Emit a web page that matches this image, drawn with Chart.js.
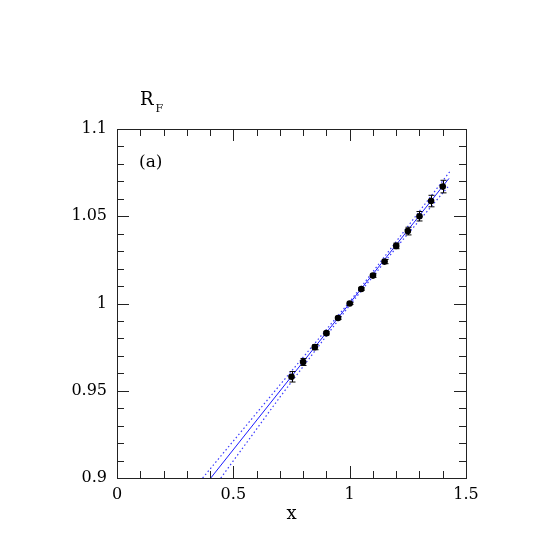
<!DOCTYPE html>
<html>
<head>
<meta charset="utf-8">
<script src="https://cdn.jsdelivr.net/npm/chart.js@4.4.1/dist/chart.umd.min.js"></script>
<style>
html,body{margin:0;padding:0;background:#fff;}
#wrap{width:545px;height:545px;position:relative;}
</style>
</head>
<body>
<div id="wrap"><canvas id="c"></canvas></div>
<script>
// ---- data ----
const xVals = [0.75, 0.80, 0.85, 0.90, 0.95, 1.00, 1.05, 1.10, 1.15, 1.20, 1.25, 1.30, 1.35, 1.40];
const yVals = [0.958, 0.9665, 0.975, 0.983, 0.9917, 1.000, 1.0083, 1.016, 1.024, 1.033, 1.0415, 1.050, 1.0587, 1.067];
const yErr  = [0.003, 0.002, 0.0015, 0.001, 0.0008, 0.0005, 0.0008, 0.001, 0.0012, 0.0016, 0.0022, 0.0027, 0.0033, 0.0036];

const fitX = [0.403, 1.427];
const fitY = [0.900, 1.0717];
const upperX = [0.368, 0.70, 1.00, 1.20, 1.43];
const upperY = [0.900, 0.9533, 1.001, 1.0355, 1.0755];
const lowerX = [0.446, 0.70, 1.00, 1.20, 1.43];
const lowerY = [0.900, 0.9463, 0.999, 1.032, 1.068];

const xTicks = [0, 0.5, 1, 1.5];
const xTickLabels = ["0", "0.5", "1", "1.5"];
const yTicks = [0.9, 0.95, 1, 1.05, 1.1];
const yTickLabels = ["0.9", "0.95", "1", "1.05", "1.1"];
const xMinorStep = 0.1, yMinorStep = 0.01;

const yTitle = "R", yTitleSub = "F";
const panelLabel = "(a)";
const xTitle = "x";

const pts = (xs, ys) => xs.map((x, i) => ({x: x, y: ys[i]}));
const SERIF = "'DejaVu Serif', 'Liberation Serif', serif";

const framePlugin = {
  id: 'frame',
  afterDatasetsDraw(chart) {
    const ctx = chart.ctx, xs = chart.scales.x, ys = chart.scales.y, a = chart.chartArea;
    ctx.save();
    // error bars
    ctx.strokeStyle = '#000'; ctx.lineWidth = 1;
    xVals.forEach((xv, i) => {
      const px = Math.round(xs.getPixelForValue(xv)) + 0.5;
      const y1 = ys.getPixelForValue(yVals[i] + yErr[i]);
      const y2 = ys.getPixelForValue(yVals[i] - yErr[i]);
      ctx.beginPath();
      ctx.moveTo(px, y1); ctx.lineTo(px, y2);
      ctx.moveTo(px - 3, y1); ctx.lineTo(px + 3, y1);
      ctx.moveTo(px - 3, y2); ctx.lineTo(px + 3, y2);
      ctx.stroke();
    });
    // frame
    ctx.strokeStyle = '#222';
    ctx.strokeRect(Math.round(a.left) + 0.5, Math.round(a.top) + 0.5, Math.round(a.right - a.left), Math.round(a.bottom - a.top));
    // x ticks (inward, bottom and top)
    const nx = Math.round((xs.max - xs.min) / xMinorStep);
    for (let k = 0; k <= nx; k++) {
      const v = xs.min + k * xMinorStep;
      const major = xTicks.some(t => Math.abs(t - v) < 1e-9);
      const len = major ? 12 : 7;
      const px = Math.round(xs.getPixelForValue(v)) + 0.5;
      ctx.beginPath();
      ctx.moveTo(px, a.bottom); ctx.lineTo(px, a.bottom - len);
      ctx.moveTo(px, a.top); ctx.lineTo(px, a.top + len);
      ctx.stroke();
    }
    const ny = Math.round((ys.max - ys.min) / yMinorStep);
    for (let k = 0; k <= ny; k++) {
      const v = ys.min + k * yMinorStep;
      const major = yTicks.some(t => Math.abs(t - v) < 1e-9);
      const len = major ? 12 : 7;
      const py = Math.round(ys.getPixelForValue(v)) + 0.5;
      ctx.beginPath();
      ctx.moveTo(a.left, py); ctx.lineTo(a.left + len, py);
      ctx.moveTo(a.right, py); ctx.lineTo(a.right - len, py);
      ctx.stroke();
    }
    // texts
    ctx.fillStyle = '#000';
    ctx.textBaseline = 'alphabetic';
    ctx.textAlign = 'left';
    ctx.font = '18px ' + SERIF;
    ctx.fillText(yTitle, 140, 105);
    const rw = ctx.measureText(yTitle).width;
    ctx.font = '11px ' + SERIF;
    ctx.fillText(yTitleSub, 140 + rw + 2, 112);
    ctx.font = '17px ' + SERIF;
    ctx.fillText(panelLabel, 139, 167);
    ctx.restore();
  }
};

new Chart(document.getElementById('c'), {
  type: 'scatter',
  data: {
    datasets: [
      { data: pts(xVals, yVals), backgroundColor: '#000', borderColor: '#000', borderWidth: 0, pointRadius: 3.3, showLine: false },
      { data: pts(fitX, fitY), showLine: true, pointRadius: 0, borderColor: '#1a1aff', borderWidth: 1, fill: false },
      { data: pts(upperX, upperY), showLine: true, pointRadius: 0, borderColor: '#3a3aff', borderWidth: 1.2, borderDash: [1.5, 2.5], fill: false },
      { data: pts(lowerX, lowerY), showLine: true, pointRadius: 0, borderColor: '#3a3aff', borderWidth: 1.2, borderDash: [1.5, 2.5], fill: false }
    ]
  },
  options: {
    responsive: true,
    maintainAspectRatio: false,
    animation: false,
    devicePixelRatio: 1,
    layout: { padding: { top: 129, right: 79, left: 0, bottom: 0 } },
    plugins: { legend: { display: false }, tooltip: { enabled: false } },
    scales: {
      x: {
        type: 'linear', min: 0, max: 1.5,
        afterBuildTicks: s => { s.ticks = xTicks.map(v => ({ value: v })); },
        afterFit: s => { s.height = 67; },
        ticks: {
          autoSkip: false, maxRotation: 0, padding: 7, color: '#000',
          font: { family: SERIF, size: 16 },
          callback: (v) => { const i = xTicks.findIndex(t => Math.abs(t - v) < 1e-9); return i >= 0 ? xTickLabels[i] : ''; }
        },
        grid: { display: false, drawTicks: false },
        border: { display: false },
        title: { display: true, text: xTitle, color: '#000', font: { family: SERIF, size: 18 }, padding: { top: 0, bottom: 20 } }
      },
      y: {
        type: 'linear', min: 0.9, max: 1.1,
        afterBuildTicks: s => { s.ticks = yTicks.map(v => ({ value: v })); },
        afterFit: s => { s.width = 117; },
        ticks: {
          autoSkip: false, padding: 10, color: '#000',
          font: { family: SERIF, size: 16 },
          callback: (v) => { const i = yTicks.findIndex(t => Math.abs(t - v) < 1e-9); return i >= 0 ? yTickLabels[i] : ''; }
        },
        grid: { display: false, drawTicks: false },
        border: { display: false }
      }
    }
  },
  plugins: [framePlugin]
});
</script>
</body>
</html>
